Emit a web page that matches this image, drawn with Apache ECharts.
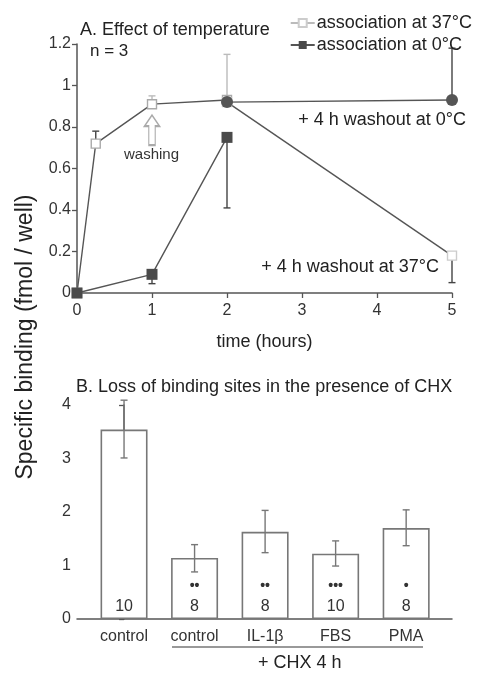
<!DOCTYPE html>
<html>
<head>
<meta charset="utf-8">
<script src="https://cdn.jsdelivr.net/npm/echarts@6/dist/echarts.min.js"></script>
<style>
  html, body { margin: 0; padding: 0; background: #fff; }
  #chart { width: 477px; height: 673px; }
</style>
</head>
<body>
<div id="chart"></div>
<script>
// panel A: time course
const assoc37 = [[0, 0], [0.25, 0.72], [1, 0.91], [2, 0.93]];
const assoc0 = [[0, 0], [1, 0.09], [2, 0.75]];
const washout0 = [[2, 0.92], [5, 0.93]];
const washout37 = [[2, 0.92], [5, 0.18]];
// [x, from, to] one-sided error bars
const errA_dark = [[0.25, 0.72, 0.78], [1, 0.09, 0.045], [2, 0.75, 0.41], [5, 0.93, 1.18], [5, 0.18, 0.05]];
const errA_light = [[1, 0.91, 0.95], [2, 0.93, 1.15]];

// panel B: bars
const categories = ['control', 'control', 'IL-1β', 'FBS', 'PMA'];
const binding = [3.54, 1.14, 1.63, 1.22, 1.70];
const errLow = [3.01, 0.88, 1.24, 0.99, 1.37];
const errHigh = [4.09, 1.39, 2.03, 1.46, 2.04];
const nValues = [10, 8, 8, 10, 8];
const stars = ['', '••', '••', '•••', '•'];

const FONT = 'Liberation Sans, Arial, sans-serif';
const AX = '#555';

function errBar(color, twoSided) {
  return function (params, api) {
    const x = api.value(0);
    const p1 = api.coord([x, api.value(1)]);
    const p2 = api.coord([x, api.value(2)]);
    const hw = 3.5;
    const st = { stroke: color, lineWidth: 1.4 };
    const kids = [
      { type: 'line', shape: { x1: p1[0], y1: p1[1], x2: p2[0], y2: p2[1] }, style: st },
      { type: 'line', shape: { x1: p2[0] - hw, y1: p2[1], x2: p2[0] + hw, y2: p2[1] }, style: st }
    ];
    if (twoSided) {
      kids.push({ type: 'line', shape: { x1: p1[0] - hw, y1: p1[1], x2: p1[0] + hw, y2: p1[1] }, style: st });
    }
    return { type: 'group', children: kids };
  };
}

const chart = echarts.init(document.getElementById('chart'));

const axisCommon = {
  axisLine: { lineStyle: { color: AX, width: 1.5 } },
  axisTick: { lineStyle: { color: AX, width: 1.3 }, length: 5 },
  axisLabel: { color: '#333', fontSize: 16, fontFamily: FONT },
  splitLine: { show: false }
};

chart.setOption({
  animation: false,
  textStyle: { fontFamily: FONT },
  grid: [
    { left: 77, right: 25, top: 44, bottom: 380 },
    { left: 77, right: 25, top: 405, bottom: 54 }
  ],
  xAxis: [
    Object.assign({}, axisCommon, {
      gridIndex: 0, type: 'value', min: 0, max: 5, interval: 1,
      axisLabel: { color: '#333', fontSize: 16, fontFamily: FONT, margin: 10 },
      name: 'time (hours)', nameLocation: 'middle', nameGap: 40,
      nameTextStyle: { color: '#222', fontSize: 18, fontFamily: FONT }
    }),
    Object.assign({}, axisCommon, {
      gridIndex: 1, type: 'value', min: -0.667, max: 4.65,
      axisTick: { show: false },
      axisLabel: {
        color: '#333', fontSize: 16, fontFamily: FONT, margin: 10,
        customValues: [0, 1, 2, 3, 4],
        formatter: v => categories[Math.round(v)]
      }
    })
  ],
  yAxis: [
    Object.assign({}, axisCommon, {
      gridIndex: 0, type: 'value', min: 0, max: 1.2, interval: 0.2,
      axisLabel: { color: '#333', fontSize: 16, fontFamily: FONT, margin: 6,
        formatter: v => String(Math.round(v * 10) / 10) }
    }),
    Object.assign({}, axisCommon, {
      gridIndex: 1, type: 'value', min: 0, max: 4, interval: 1,
      axisLabel: { color: '#333', fontSize: 16, fontFamily: FONT, margin: 6 }
    })
  ],
  legend: {
    orient: 'vertical', right: 0, top: 9, itemGap: 4,
    itemWidth: 24, itemHeight: 10,
    textStyle: { fontSize: 18, color: '#222', fontFamily: FONT, padding: [0, 0, 0, -3] },
    data: [
      { name: 'association at 37°C', itemStyle: { color: '#fff', borderColor: '#ccc' }, lineStyle: { color: '#bbb' } },
      { name: 'association at 0°C' }
    ]
  },
  series: [
    {
      name: 'association at 37°C', type: 'line', xAxisIndex: 0, yAxisIndex: 0,
      data: assoc37, symbol: 'rect', symbolSize: 9, z: 3,
      lineStyle: { color: '#555', width: 1.4 },
      itemStyle: { color: '#fff', borderColor: '#aaa', borderWidth: 1.4 },
      markPoint: {
        silent: true,
        symbol: 'path://M7,0 L14,11 L10,11 L10,30 L4,30 L4,11 L0,11 Z',
        symbolSize: [15, 30],
        itemStyle: { color: 'rgba(0,0,0,0)', borderColor: '#aaa', borderWidth: 1.5 },
        label: { show: false },
        data: [{ coord: [1, 0.785] }]
      }
    },
    {
      name: 'association at 0°C', type: 'line', xAxisIndex: 0, yAxisIndex: 0,
      data: assoc0, symbol: 'rect', symbolSize: 11, z: 4,
      lineStyle: { color: '#555', width: 1.4 },
      itemStyle: { color: '#4a4a4a' }
    },
    {
      name: 'washout at 0°C', type: 'line', xAxisIndex: 0, yAxisIndex: 0,
      data: washout0, symbol: 'circle', symbolSize: 12, z: 5,
      lineStyle: { color: '#555', width: 1.4 },
      itemStyle: { color: '#555' }
    },
    {
      name: 'washout at 37°C', type: 'line', xAxisIndex: 0, yAxisIndex: 0,
      data: washout37, symbol: 'rect', symbolSize: 9, z: 3,
      lineStyle: { color: '#555', width: 1.4 },
      itemStyle: { color: '#fff', borderColor: '#ccc', borderWidth: 1.4 }
    },
    {
      type: 'custom', xAxisIndex: 0, yAxisIndex: 0, z: 2,
      renderItem: errBar('#444', false), data: errA_dark
    },
    {
      type: 'custom', xAxisIndex: 0, yAxisIndex: 0, z: 2,
      renderItem: errBar('#bbb', false), data: errA_light
    },
    {
      type: 'bar', xAxisIndex: 1, yAxisIndex: 1, barWidth: 47,
      data: binding.map((v, i) => [i, v]),
      itemStyle: { color: '#fff', borderColor: '#777', borderWidth: 1.6 },
      label: {
        show: true, position: 'insideBottom', distance: 3,
        formatter: p => (stars[p.dataIndex] ? '{s|' + stars[p.dataIndex] + '}\n' : '') + '{n|' + nValues[p.dataIndex] + '}',
        rich: {
          s: { fontSize: 14, fontWeight: 'bold', color: '#333', lineHeight: 24, fontFamily: FONT },
          n: { fontSize: 16, color: '#333', lineHeight: 18, fontFamily: FONT }
        }
      }
    },
    {
      type: 'custom', xAxisIndex: 1, yAxisIndex: 1, z: 3,
      renderItem: errBar('#777', true),
      data: binding.map((v, i) => [i, errLow[i], errHigh[i]])
    }
  ],
  graphic: [
    { type: 'text', left: 80, top: 21, style: { text: 'A. Effect of temperature', fontSize: 18, fill: '#222', fontFamily: FONT } },
    { type: 'text', left: 90, top: 43, style: { text: 'n = 3', fontSize: 17, fill: '#222', fontFamily: FONT } },
    { type: 'text', left: 124, top: 147, style: { text: 'washing', fontSize: 15, fill: '#333', fontFamily: FONT } },
    { type: 'text', right: 11, top: 111, style: { text: '+ 4 h washout at 0°C', fontSize: 18, fill: '#222', fontFamily: FONT } },
    { type: 'text', right: 38, top: 258, style: { text: '+ 4 h washout at 37°C', fontSize: 18, fill: '#222', fontFamily: FONT } },
    { type: 'text', left: 76, top: 378, style: { text: 'B. Loss of binding sites in the presence of CHX', fontSize: 18, fill: '#222', fontFamily: FONT } },
    { type: 'line', shape: { x1: 172, y1: 647, x2: 423, y2: 647 }, style: { stroke: '#777', lineWidth: 1.4 } },
    { type: 'text', left: 258, top: 654, style: { text: '+ CHX 4 h', fontSize: 18, fill: '#222', fontFamily: FONT } },
    { type: 'text', x: 26, y: 337, rotation: Math.PI / 2,
      style: { text: 'Specific binding (fmol / well)', fontSize: 23, fill: '#222', fontFamily: FONT, align: 'center', verticalAlign: 'middle' } }
  ]
});
</script>
</body>
</html>
